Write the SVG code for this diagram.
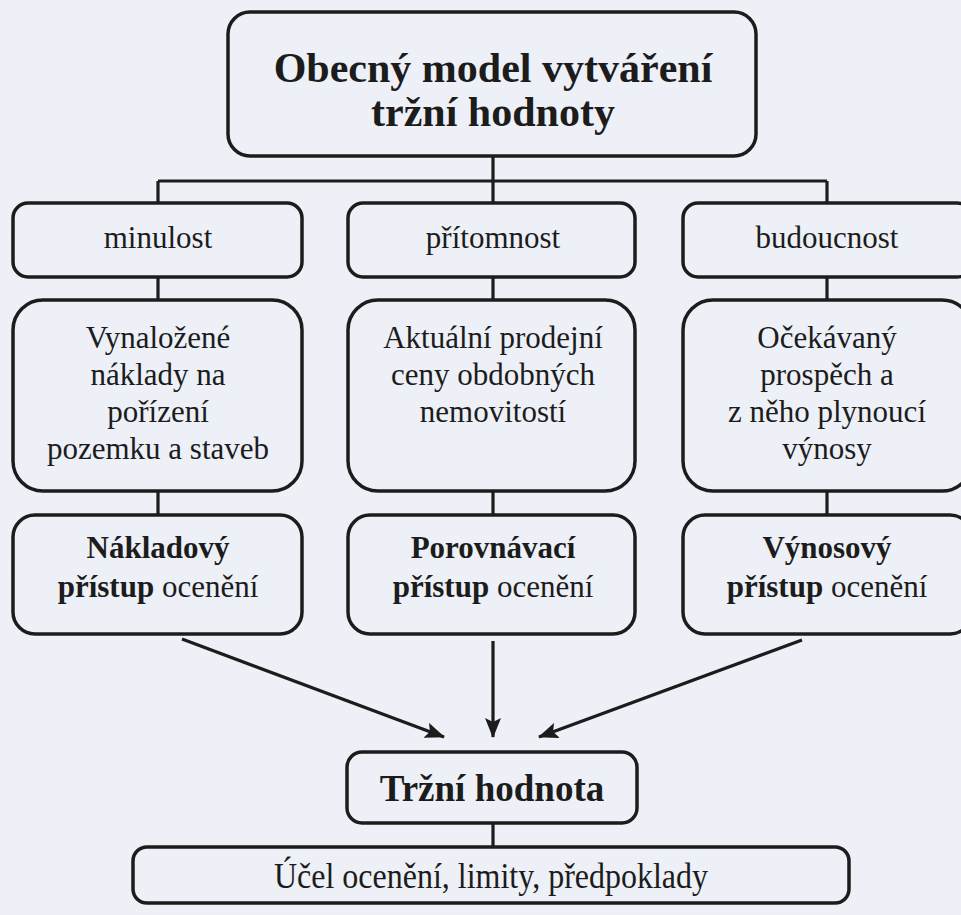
<svg xmlns="http://www.w3.org/2000/svg" width="961" height="915" viewBox="0 0 961 915">
<style>
.box{fill:none;stroke:#1c1c1c;stroke-width:3.5}
.ln{fill:none;stroke:#1c1c1c;stroke-width:3.2}
text{font-family:"Liberation Serif","Times New Roman",serif;fill:#1c1c1c;text-anchor:middle}
.t{font-size:31px}
.b{font-weight:bold}
.title{font-size:42px;font-weight:bold}
.mv{font-size:37px;font-weight:bold}
.u{font-size:32px}
</style>
<defs>
<marker id="ah" viewBox="0 0 20 16" refX="19" refY="8" markerWidth="20" markerHeight="16" markerUnits="userSpaceOnUse" orient="auto">
<path d="M0,0 L20,8 L0,16 L4,8 Z" fill="#1c1c1c"/>
</marker>
</defs>
<rect width="961" height="915" fill="#edf0f6"/>
<g id="connectors">
<path class="ln" d="M493,156 V181 M158,181 H827 M158,181 V203 M493,181 V203 M827,181 V203"/>
<path class="ln" d="M158,277 V300 M493,277 V300 M827,277 V300"/>
<path class="ln" d="M158,491 V515 M493,491 V515 M827,491 V515"/>
<line class="ln" x1="182" y1="639" x2="444" y2="737" marker-end="url(#ah)"/>
<line class="ln" x1="493" y1="641" x2="493" y2="737" marker-end="url(#ah)"/>
<line class="ln" x1="802" y1="640" x2="539" y2="737" marker-end="url(#ah)"/>
<path class="ln" d="M493,823 V847"/>
</g>
<g id="title">
<rect class="box" x="228" y="12" width="528" height="144" rx="22"/>
<text class="title" x="493" y="82">Obecný model vytváření</text>
<text class="title" x="493" y="126">tržní hodnoty</text>
</g>
<g id="minulost">
<rect class="box" x="13" y="203" width="289" height="74" rx="15"/>
<text class="t" x="158" y="248">minulost</text>
</g>
<g id="pritomnost">
<rect class="box" x="348" y="203" width="287" height="74" rx="15"/>
<text class="t" x="493" y="248">přítomnost</text>
</g>
<g id="budoucnost">
<rect class="box" x="683" y="203" width="289" height="74" rx="15"/>
<text class="t" x="827" y="248">budoucnost</text>
</g>
<g id="naklady">
<rect class="box" x="13" y="300" width="289" height="191" rx="30"/>
<text class="t" x="158" y="348">Vynaložené</text>
<text class="t" x="158" y="385">náklady na</text>
<text class="t" x="158" y="422">pořízení</text>
<text class="t" x="158" y="459">pozemku a staveb</text>
</g>
<g id="ceny">
<rect class="box" x="348" y="300" width="287" height="191" rx="30"/>
<text class="t" x="493" y="348">Aktuální prodejní</text>
<text class="t" x="493" y="385">ceny obdobných</text>
<text class="t" x="493" y="422">nemovitostí</text>
</g>
<g id="prospech">
<rect class="box" x="683" y="300" width="289" height="191" rx="30"/>
<text class="t" x="827" y="348">Očekávaný</text>
<text class="t" x="827" y="385">prospěch a</text>
<text class="t" x="827" y="422">z něho plynoucí</text>
<text class="t" x="827" y="459">výnosy</text>
</g>
<g id="nakladovy">
<rect class="box" x="13" y="515" width="289" height="119" rx="22"/>
<text class="t b" x="158" y="558">Nákladový</text>
<text class="t" x="158" y="597"><tspan class="b">přístup</tspan> ocenění</text>
</g>
<g id="porovnavaci">
<rect class="box" x="348" y="515" width="287" height="119" rx="22"/>
<text class="t b" x="493" y="558">Porovnávací</text>
<text class="t" x="493" y="597"><tspan class="b">přístup</tspan> ocenění</text>
</g>
<g id="vynosovy">
<rect class="box" x="683" y="515" width="289" height="119" rx="22"/>
<text class="t b" x="827" y="558">Výnosový</text>
<text class="t" x="827" y="597"><tspan class="b">přístup</tspan> ocenění</text>
</g>
<g id="trzni">
<rect class="box" x="347" y="752" width="290" height="71" rx="15"/>
<text class="mv" x="492" y="801">Tržní hodnota</text>
</g>
<g id="ucel">
<rect class="box" x="133" y="847" width="716" height="56" rx="14"/>
<text class="u" x="491" y="888" transform="translate(491 888) scale(1 1.15) translate(-491 -888)">Účel ocenění, limity, předpoklady</text>
</g>
</svg>
